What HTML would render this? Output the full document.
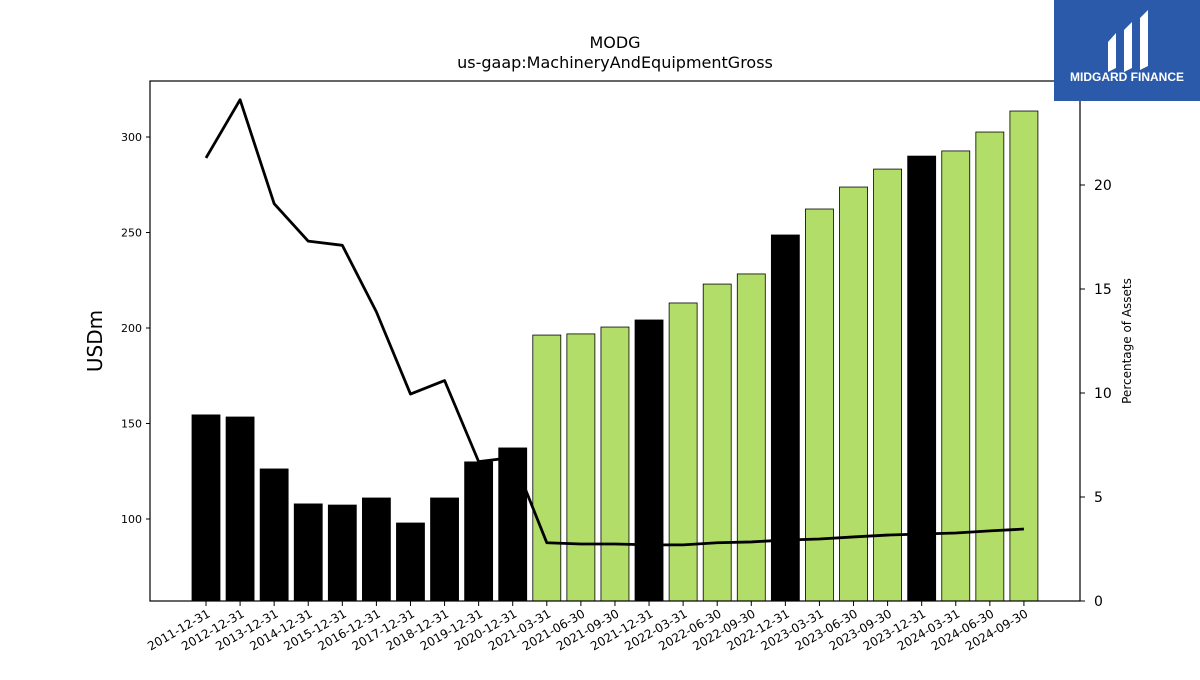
<!DOCTYPE html>
<html><head><meta charset="utf-8"><style>
body{margin:0;background:#fff;width:1200px;height:675px;overflow:hidden;font-family:"Liberation Sans","DejaVu Sans",sans-serif}
</style></head><body>
<svg id="chart" width="1200" height="675" xmlns="http://www.w3.org/2000/svg" font-family="DejaVu Sans, Liberation Sans, sans-serif">
<text x="615" y="48" font-size="16" text-anchor="middle">MODG</text>
<text x="615" y="68" font-size="16" text-anchor="middle">us-gaap:MachineryAndEquipmentGross</text>
<g id="bars"></g>
<g id="line"></g>
<rect x="150" y="81" width="930" height="520" fill="none" stroke="#000" stroke-width="1.2"/>
<g id="axes"></g>
<text transform="translate(102,341) rotate(-90)" font-size="20" text-anchor="middle">USDm</text>
<text transform="translate(1131,341) rotate(-90)" font-size="12" text-anchor="middle">Percentage of Assets</text>
<g>
<rect x="1054" y="0" width="146" height="101" fill="#2b5aab"/>
<path d="M1108,42 L1116,33 L1116,68 L1108,72 Z M1124,30 L1132,22 L1132,68 L1124,72 Z M1140,18 L1148,10 L1148,66 L1140,70 Z" fill="#fff"/>
<text x="1127" y="81" font-size="12" font-weight="bold" fill="#fff" text-anchor="middle" font-family="Liberation Sans, sans-serif">MIDGARD FINANCE</text>
</g>
</svg>
<script>
const categories=["2011-12-31","2012-12-31","2013-12-31","2014-12-31","2015-12-31","2016-12-31","2017-12-31","2018-12-31","2019-12-31","2020-12-31","2021-03-31","2021-06-30","2021-09-30","2021-12-31","2022-03-31","2022-06-30","2022-09-30","2022-12-31","2023-03-31","2023-06-30","2023-09-30","2023-12-31","2024-03-31","2024-06-30","2024-09-30"];
const values=[154.5,153.4,126.2,107.9,107.3,111,97.9,111,129.9,137.2,196.3,196.9,200.5,204.2,213.1,223,228.3,248.7,262.3,273.8,283.2,290,292.7,302.6,313.6];
const pct=[21.3,24.1,19.1,17.3,17.1,13.9,9.95,10.6,6.7,6.9,2.8,2.74,2.74,2.7,2.7,2.8,2.84,2.93,2.98,3.08,3.17,3.22,3.27,3.37,3.46];
const leftTicks=[100,150,200,250,300];
const rightTicks=[0,5,10,15,20];
const NS="http://www.w3.org/2000/svg";
const yL=v=>519-(v-100)*1.91;
const yR=v=>601-v*20.8;
const xC=i=>206+i*34.08;
function mk(t,a,p){const e=document.createElementNS(NS,t);for(const k in a)e.setAttribute(k,a[k]);p.appendChild(e);return e;}
const bars=document.getElementById('bars'),line=document.getElementById('line'),axes=document.getElementById('axes');
values.forEach((v,i)=>{
 const annual=categories[i].endsWith('12-31');
 const r=mk('rect',{x:xC(i)-14,y:yL(v),width:28,height:601-yL(v),fill:annual?'#000':'#b3dd69',stroke:'#000','stroke-width':0.8},bars);
 
 
});
const pl=mk('polyline',{points:pct.map((p,i)=>xC(i)+','+yR(p)).join(' '),fill:'none',stroke:'#000','stroke-width':2.8,'stroke-linejoin':'round'},line);


leftTicks.forEach(t=>{
 mk('line',{x1:146,x2:150,y1:yL(t),y2:yL(t),stroke:'#000'},axes);
 const tx=mk('text',{x:142,y:yL(t)+4,'font-size':11,'text-anchor':'end'},axes);tx.textContent=t;
 
 
});
rightTicks.forEach(t=>{
 mk('line',{x1:1080,x2:1085,y1:yR(t),y2:yR(t),stroke:'#000'},axes);
 const tx=mk('text',{x:1094,y:yR(t)+5,'font-size':14},axes);tx.textContent=t;
 
 
});
categories.forEach((c,i)=>{
 const x=xC(i);
 mk('line',{x1:x,x2:x,y1:601,y2:606,stroke:'#000'},axes);
 const tx=mk('text',{transform:`translate(${x+5},${616}) rotate(-30)`,'font-size':12,'text-anchor':'end'},axes);tx.textContent=c;
 
 
});
</script>
</body></html>
